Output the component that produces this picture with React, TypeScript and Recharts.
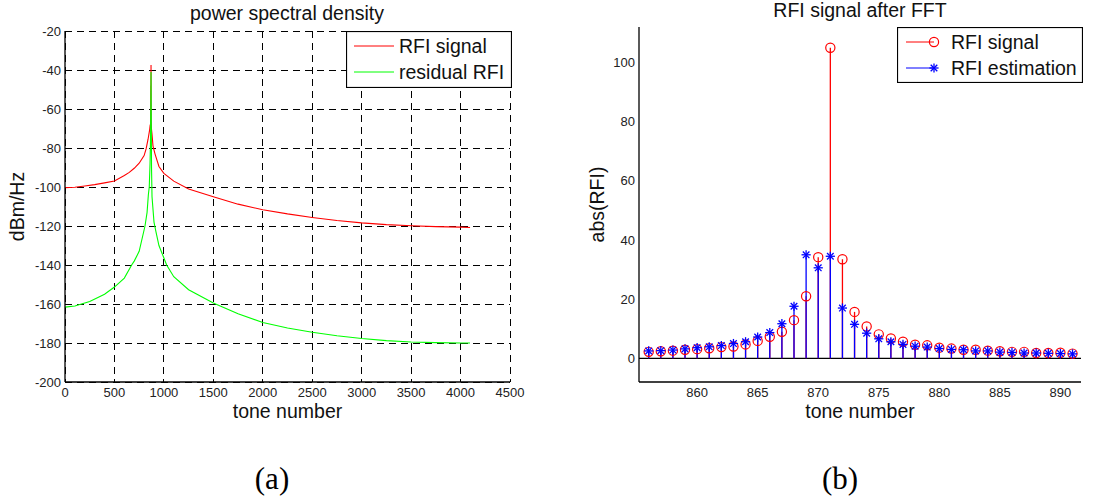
import React from 'react';
import {
  LineChart, Line, XAxis, YAxis, CartesianGrid, Legend,
  ComposedChart, Scatter, ErrorBar, ReferenceLine,
} from 'recharts';

// ---------- Chart (a): power spectral density ----------
const psdTones = [0, 100, 200, 300, 400, 500, 600, 650, 700, 750, 800, 820, 840, 855, 862, 864, 866, 867, 868, 869, 870, 871, 872, 874, 880, 890, 910, 950, 1000, 1100, 1250, 1500, 1750, 2000, 2250, 2500, 2750, 3000, 3250, 3500, 3750, 4000, 4096];
const rfiSignalDb = [-100.3, -100.1, -99.5, -98.8, -97.9, -96.9, -94.1, -92.5, -90.4, -87.8, -83.9, -80.5, -75.5, -71, -68, -70, -68, -60, -48, -55, -37.4, -66, -68, -70, -73, -79, -83, -89.5, -93, -97, -101, -105, -108.8, -111.7, -113.8, -115.6, -117.2, -118.4, -119.3, -119.9, -120.3, -120.6, -120.8];
const residualTones = [0, 100, 250, 400, 500, 600, 674, 700, 750, 809, 830, 843, 852, 860, 865, 868, 870, 872, 875, 880, 900, 920, 950, 1028, 1100, 1250, 1500, 1750, 2000, 2250, 2500, 2750, 3000, 3250, 3500, 3750, 4000, 4096];
const residualDb = [-161.6, -161, -158.7, -155, -151.3, -146.7, -140, -138, -133, -120, -113, -104, -100, -88, -75, -55, -41, -60, -90, -105, -118, -123, -130, -140, -146, -152.7, -159.5, -165, -169.5, -172.3, -174.5, -176.3, -177.7, -178.8, -179.5, -179.8, -180, -180];
const psdXTicks = [0, 500, 1000, 1500, 2000, 2500, 3000, 3500, 4000, 4500];
const psdYTicks = [-200, -180, -160, -140, -120, -100, -80, -60, -40, -20];
const psdNames = ['RFI signal', 'residual RFI'];

// ---------- Chart (b): RFI signal after FFT ----------
const fftTones = [856, 857, 858, 859, 860, 861, 862, 863, 864, 865, 866, 867, 868, 869, 870, 871, 872, 873, 874, 875, 876, 877, 878, 879, 880, 881, 882, 883, 884, 885, 886, 887, 888, 889, 890, 891];
const rfiSignalAbs = [2.2, 2.4, 2.6, 2.9, 3.1, 3.4, 3.8, 4.0, 4.7, 5.9, 7.3, 9.0, 12.9, 21, 34.2, 105, 33.5, 15.7, 10.8, 8.1, 6.7, 5.6, 4.6, 4.4, 3.6, 3.3, 2.9, 2.9, 2.6, 2.4, 2.2, 2.2, 1.8, 1.8, 1.9, 1.6];
const rfiEstimationAbs = [2.5, 2.6, 2.8, 3.2, 3.6, 3.9, 4.3, 5.0, 5.6, 7.2, 8.7, 11.7, 17.6, 35, 30.6, 34.5, 17.0, 11.5, 8.5, 6.6, 5.6, 4.7, 4.1, 3.8, 3.3, 3.0, 2.9, 2.5, 2.5, 2.1, 2.0, 1.8, 1.8, 1.7, 1.6, 1.5];
const fftXTicks = [860, 865, 870, 875, 880, 885, 890];
const fftYTicks = [0, 20, 40, 60, 80, 100];
const fftNames = ['RFI signal', 'RFI estimation'];

const RED = '#ff0000';
const GREEN = '#00ff00';
const BLUE = '#0000ff';
const FONT = '"Liberation Sans", Arial, Helvetica, sans-serif';

const rfiLine = psdTones.map((t, i) => ({ x: t, y: rfiSignalDb[i] }));
const residualLine = residualTones.map((t, i) => ({ x: t, y: residualDb[i] }));
const redStems = fftTones.map((t, i) => ({ x: t, y: rfiSignalAbs[i], err: [rfiSignalAbs[i], 0] }));
const blueStems = fftTones.map((t, i) => ({ x: t, y: rfiEstimationAbs[i], err: [rfiEstimationAbs[i], 0] }));

const tickStyle = { fontSize: 13, fill: '#222', fontFamily: FONT };

const CircleMarker = (p: any) => (
  <circle cx={p.cx} cy={p.cy} r={4.6} fill="none" stroke={RED} strokeWidth={1.2} />
);
const StarMarker = (p: any) => {
  const { cx, cy } = p;
  const r = 4.6;
  const d = 3.3;
  return (
    <g stroke={BLUE} strokeWidth={1.3}>
      <line x1={cx - r} y1={cy} x2={cx + r} y2={cy} />
      <line x1={cx} y1={cy - r} x2={cx} y2={cy + r} />
      <line x1={cx - d} y1={cy - d} x2={cx + d} y2={cy + d} />
      <line x1={cx - d} y1={cy + d} x2={cx + d} y2={cy - d} />
    </g>
  );
};

const YLabel = (dx: number, text: string) => (props: any) => {
  const vb = props.viewBox || {};
  const cx = vb.x + dx;
  const cy = vb.y + vb.height / 2;
  return (
    <text x={cx} y={cy} transform={`rotate(-90, ${cx}, ${cy})`} textAnchor="middle" dominantBaseline="central"
      fontSize={19.5} fontFamily={FONT} fill="#111">{text}</text>
  );
};
const XLabel = (dy: number, text: string) => (props: any) => {
  const vb = props.viewBox || {};
  return (
    <text x={vb.x + vb.width / 2} y={vb.y + dy} textAnchor="middle" fontSize={19.5} fontFamily={FONT} fill="#111">{text}</text>
  );
};

const PsdLegend = () => (
  <svg width={166} height={57} style={{ display: 'block' }}>
    <rect x={0.5} y={0.5} width={165} height={56} fill="#fff" stroke="#000" strokeWidth={1.2} />
    <line x1={8} y1={15} x2={48} y2={15} stroke={RED} strokeWidth={1} />
    <line x1={8} y1={41} x2={48} y2={41} stroke={GREEN} strokeWidth={1} />
    <text x={53} y={22} fontSize={19.5} fontFamily={FONT} fill="#111">{psdNames[0]}</text>
    <text x={53} y={48} fontSize={19.5} fontFamily={FONT} fill="#111">{psdNames[1]}</text>
  </svg>
);

const FftLegend = () => (
  <svg width={186} height={56} style={{ display: 'block' }}>
    <rect x={0.5} y={0.5} width={185} height={55} fill="#fff" stroke="#000" strokeWidth={1.2} />
    <line x1={9} y1={15} x2={37} y2={15} stroke={RED} strokeWidth={1} />
    <CircleMarker cx={37} cy={15} />
    <line x1={9} y1={41} x2={37} y2={41} stroke={BLUE} strokeWidth={1} />
    <StarMarker cx={37} cy={41} />
    <text x={54} y={22} fontSize={19.5} fontFamily={FONT} fill="#111">{fftNames[0]}</text>
    <text x={54} y={48} fontSize={19.5} fontFamily={FONT} fill="#111">{fftNames[1]}</text>
  </svg>
);

export default function App() {
  return (
    <div style={{ position: 'absolute', left: 0, top: 0, width: 1094, height: 499, background: '#fff', overflow: 'hidden' }}>
      <div style={{ position: 'absolute', left: 0, top: 0 }}>
        <LineChart width={540} height={430} margin={{ top: 31, right: 30, bottom: 0, left: 0 }}>
          <CartesianGrid stroke="#000" strokeDasharray="7 5" strokeWidth={1} shapeRendering="crispEdges" />
          <XAxis type="number" dataKey="x" domain={[0, 4500]} ticks={psdXTicks} allowDataOverflow
            height={48} tickLine={false} tickSize={0} tickMargin={6} axisLine={{ stroke: '#000', strokeWidth: 1.3 }}
            tick={tickStyle} interval={0} label={{ content: XLabel(36, 'tone number') }} />
          <XAxis xAxisId="top" orientation="top" type="number" domain={[0, 4500]} height={0} tick={false}
            tickLine={false} axisLine={{ stroke: '#000', strokeWidth: 1.3 }} />
          <YAxis type="number" domain={[-200, -20]} ticks={psdYTicks} allowDataOverflow width={65}
            tickLine={false} tickSize={0} tickMargin={4} axisLine={{ stroke: '#000', strokeWidth: 1.3 }}
            tick={tickStyle} interval={0} label={{ content: YLabel(17, 'dBm/Hz') }} />
          <YAxis yAxisId="right" orientation="right" type="number" domain={[-200, -20]} width={0} tick={false}
            tickLine={false} axisLine={{ stroke: '#000', strokeWidth: 1.3 }} />
          <Line data={rfiLine} dataKey="y" name={psdNames[0]} type="linear" stroke={RED} strokeWidth={1.1} dot={false} isAnimationActive={false} />
          <Line data={residualLine} dataKey="y" name={psdNames[1]} type="linear" stroke={GREEN} strokeWidth={1.1} dot={false} isAnimationActive={false} />
          <Legend verticalAlign="middle" align="center" content={PsdLegend}
            wrapperStyle={{ position: 'absolute', top: 31, left: 346, width: 166, height: 57 }} />
        </LineChart>
      </div>

      <div style={{ position: 'absolute', left: 560, top: 0 }}>
        <ComposedChart width={534} height={430} margin={{ top: 27, right: 13, bottom: 0, left: 0 }}>
          <XAxis type="number" dataKey="x" domain={[855.2, 891.7]} ticks={fftXTicks} allowDataOverflow
            height={48} tickLine={false} tickSize={0} tickMargin={6} axisLine={{ stroke: '#000', strokeWidth: 1.3 }}
            tick={tickStyle} interval={0} label={{ content: XLabel(36, 'tone number') }} />
          <YAxis type="number" domain={[-8, 112]} ticks={fftYTicks} allowDataOverflow width={79}
            tickLine={false} tickSize={0} tickMargin={4} axisLine={{ stroke: '#000', strokeWidth: 1.3 }}
            tick={tickStyle} interval={0} label={{ content: YLabel(37, 'abs(RFI)') }} />
          <ReferenceLine y={0} stroke="#000" strokeWidth={1.2} />
          <Scatter data={redStems} dataKey="y" name={fftNames[0]} shape={CircleMarker} isAnimationActive={false}>
            <ErrorBar dataKey="err" direction="y" width={0} stroke={RED} strokeWidth={1.3} isAnimationActive={false} />
          </Scatter>
          <Scatter data={blueStems} dataKey="y" name={fftNames[1]} shape={StarMarker} isAnimationActive={false}>
            <ErrorBar dataKey="err" direction="y" width={0} stroke={BLUE} strokeWidth={1.3} isAnimationActive={false} />
          </Scatter>
          <Legend verticalAlign="middle" align="center" content={FftLegend}
            wrapperStyle={{ position: 'absolute', top: 27, left: 337, width: 186, height: 56 }} />
        </ComposedChart>
      </div>

      <svg width={1094} height={499} style={{ position: 'absolute', left: 0, top: 0, pointerEvents: 'none' }}>
        <text x={287} y={20} textAnchor="middle" fontSize={19.5} fontFamily={FONT} fill="#111">power spectral density</text>
        <text x={860} y={17} textAnchor="middle" fontSize={19.5} fontFamily={FONT} fill="#111">RFI signal after FFT</text>
        <text x={272} y={489} textAnchor="middle" fontSize={31} fontFamily='"Liberation Serif", "Times New Roman", serif' fill="#000">(a)</text>
        <text x={840} y={489} textAnchor="middle" fontSize={31} fontFamily='"Liberation Serif", "Times New Roman", serif' fill="#000">(b)</text>
      </svg>
    </div>
  );
}
